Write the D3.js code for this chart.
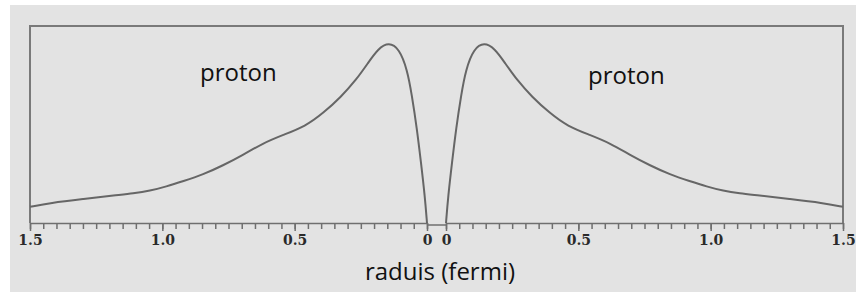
<!DOCTYPE html>
<html>
<head>
<meta charset="utf-8">
<script src="https://cdn.jsdelivr.net/npm/d3@7"></script>
<style>
  body { margin: 0; background: #fff; }
  .frame { fill: none; stroke: #7a7a7a; stroke-width: 2; }
  .curve { fill: none; stroke: #666; stroke-width: 2; }
  .axis path, .axis line { stroke: #6f6f6f; stroke-width: 1.5; }
  .axis text { font-family: "DejaVu Serif", serif; font-weight: bold; font-size: 14px; fill: #2a2a2a; }
  .label { font-family: "Open Sans", sans-serif; font-size: 24px; fill: #111; }
</style>
</head>
<body>
<div id="chart"></div>
<script>
const width = 856
const height = 292

// radius in fermi, density in arbitrary units (same for both sides, mirrored)
const radius = [0, 0.008, 0.023, 0.038, 0.057, 0.075, 0.105, 0.144, 0.185, 0.223, 0.268, 0.325, 0.39, 0.46, 0.544, 0.62, 0.696, 0.771, 0.846, 0.922, 0.985, 1.047, 1.11, 1.175, 1.3, 1.424, 1.5]
const density = [0, 0.135, 0.31, 0.478, 0.648, 0.78, 0.885, 0.918, 0.885, 0.812, 0.726, 0.64, 0.56, 0.49, 0.447, 0.405, 0.345, 0.292, 0.246, 0.212, 0.185, 0.163, 0.15, 0.141, 0.122, 0.102, 0.082]

const majorTicks = [0, 0.5, 1.0, 1.5]
const minorTicks = d3.range(0, 31).map(i => i * 0.05)
const labels = ["proton", "proton"]
const xTitle = "raduis (fermi)"

const data = radius.map((r, i) => ({ r: r, v: density[i] }))

const svg = d3.select("div#chart").append("svg").attr("width", width).attr("height", height)

svg.append("rect").attr("x", 10).attr("y", 5).attr("width", width - 10).attr("height", height - 5).attr("fill", "#e3e3e3")

const xLeft = d3.scaleLinear().domain([1.5, 0]).range([30, 427])
const xRight = d3.scaleLinear().domain([0, 1.5]).range([446, 843])
const y = d3.scaleLinear().domain([0, 1]).range([223, 26])

// frame
svg.append("path").attr("class", "frame")
    .attr("d", `M${xLeft(1.5)},${y(0)} V${y(1)} H${xRight(1.5)} V${y(0)}`)

// axes
const drawAxis = (scale) => {
    svg.append("g").attr("class", "axis").attr("transform", `translate(0, ${y(0)})`)
        .call(d3.axisBottom(scale).tickValues(minorTicks).tickSize(6).tickFormat("").tickSizeOuter(0))
    svg.append("g").attr("class", "axis").attr("transform", `translate(0, ${y(0)})`)
        .call(d3.axisBottom(scale).tickValues(majorTicks).tickSize(8).tickPadding(4).tickSizeOuter(0)
            .tickFormat(d => d === 0 ? "0" : d3.format(".1f")(d)))
        .call(g => g.select(".domain").remove())
}
drawAxis(xLeft)
drawAxis(xRight)

// small link across the gap
svg.append("line").attr("x1", xLeft(0)).attr("x2", xRight(0)).attr("y1", y(0) + 2).attr("y2", y(0) + 2)
    .attr("stroke", "#6f6f6f").attr("stroke-width", 1.5)

// curves
const lineLeft = d3.line().x(d => xLeft(d.r)).y(d => y(d.v)).curve(d3.curveBasis)
const lineRight = d3.line().x(d => xRight(d.r)).y(d => y(d.v)).curve(d3.curveBasis)
svg.append("path").datum(data).attr("class", "curve").attr("d", lineLeft)
svg.append("path").datum(data).attr("class", "curve").attr("d", lineRight)

// labels
svg.append("text").attr("class", "label").attr("x", 200).attr("y", 81).text(labels[0])
svg.append("text").attr("class", "label").attr("x", 588).attr("y", 84).text(labels[1])
svg.append("text").attr("class", "label").attr("x", 440).attr("y", 280).attr("text-anchor", "middle").text(xTitle)
</script>
</body>
</html>
